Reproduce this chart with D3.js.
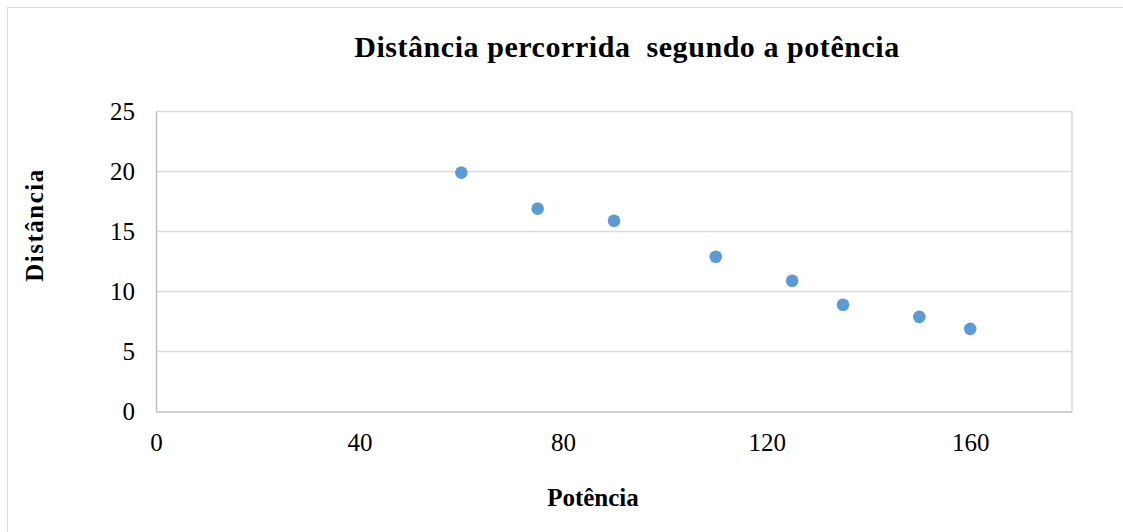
<!DOCTYPE html>
<html>
<head>
<meta charset="utf-8">
<script src="https://cdn.jsdelivr.net/npm/d3@7"></script>
<style>
  body { margin: 0; background: #fff; }
  text { font-family: "Liberation Serif", "Times New Roman", serif; fill: #000; }
</style>
</head>
<body>
<script>
// data
var potencia  = [60, 75, 90, 110, 125, 135, 150, 160];
var distancia = [20, 17, 16, 13, 11, 9, 8, 7];
var xTicks = [0, 40, 80, 120, 160];
var yTicks = [0, 5, 10, 15, 20, 25];

var width = 1123, height = 532;
var plot = { left: 156, right: 1072, top: 111, bottom: 411.5 };

var svg = d3.select("body").append("svg")
            .attr("width", width)
            .attr("height", height);

// outer chart border
svg.append("rect")
   .attr("x", 7.5).attr("y", 7.5)
   .attr("width", width - 7).attr("height", height - 7)
   .style("fill", "none")
   .style("stroke", "#d9d9d9");

var x = d3.scaleLinear().domain([0, 180]).range([plot.left, plot.right]);
var y = d3.scaleLinear().domain([0, 25]).range([plot.bottom, plot.top]);

// gridlines
svg.append("g")
   .selectAll("line")
   .data(yTicks.slice(1))
   .enter()
   .append("line")
   .attr("x1", plot.left).attr("x2", plot.right)
   .attr("y1", d => Math.round(y(d)) + 0.5)
   .attr("y2", d => Math.round(y(d)) + 0.5)
   .style("stroke", "#d9d9d9")
   .style("stroke-width", 1.5);

// right border of plot area
svg.append("line")
   .attr("x1", plot.right).attr("x2", plot.right)
   .attr("y1", plot.top).attr("y2", plot.bottom)
   .style("stroke", "#d9d9d9")
   .style("stroke-width", 1.5);

// axes
var yAxis = svg.append("g")
   .attr("transform", "translate(" + plot.left + ",0)")
   .call(d3.axisLeft(y).tickValues(yTicks).tickSize(0).tickPadding(21));
var xAxis = svg.append("g")
   .attr("transform", "translate(0," + plot.bottom + ")")
   .call(d3.axisBottom(x).tickValues(xTicks).tickSize(0).tickPadding(22));

[xAxis, yAxis].forEach(a => {
  a.select(".domain").style("stroke", "#bfbfbf").style("stroke-width", 1.5);
  a.selectAll("text").style("font-size", "25px").style("font-family", "Liberation Serif");
});

// points
svg.append("g")
   .selectAll("circle")
   .data(potencia)
   .enter()
   .append("circle")
   .attr("cx", d => x(d))
   .attr("cy", (d, i) => y(distancia[i]) + 1.5)
   .attr("r", 6.3)
   .style("fill", "#5b9bd5");

// titles
svg.append("text")
   .attr("x", 627).attr("y", 57)
   .attr("text-anchor", "middle")
   .style("font-size", "30px")
   .style("font-weight", "bold")
   .style("letter-spacing", "0.55px")
   .style("white-space", "pre")
   .text("Distância percorrida  segundo a potência");

svg.append("text")
   .attr("x", 593).attr("y", 506)
   .attr("text-anchor", "middle")
   .style("font-size", "25px")
   .style("font-weight", "bold")
   .text("Potência");

svg.append("text")
   .attr("transform", "translate(43,225) rotate(-90)")
   .attr("text-anchor", "middle")
   .style("font-size", "25px")
   .style("font-weight", "bold")
   .style("letter-spacing", "1.5px")
   .text("Distância");
</script>
</body>
</html>
